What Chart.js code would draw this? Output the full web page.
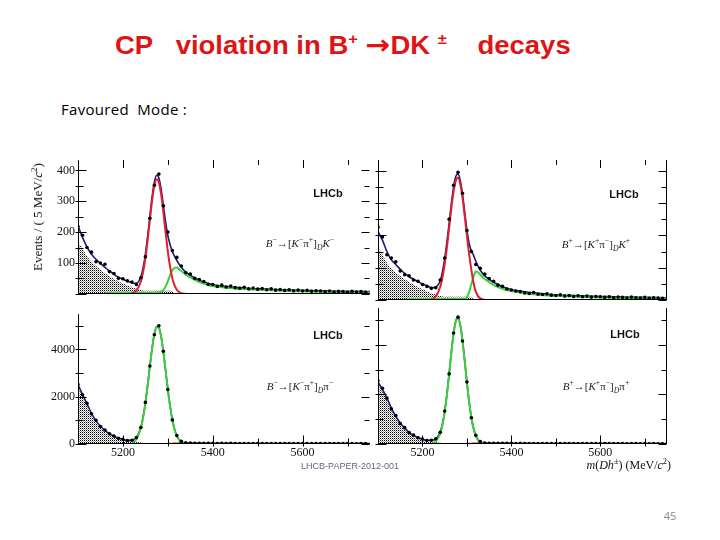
<!DOCTYPE html>
<html>
<head>
<meta charset="utf-8">
<script src="https://cdn.jsdelivr.net/npm/chart.js@4.4.0/dist/chart.umd.min.js"></script>
<style>
  body { margin: 0; width: 720px; height: 540px; background: #fff; position: relative; overflow: hidden; }
  canvas { position: absolute; }
  .t { position: absolute; white-space: nowrap; }
  .c { transform: translate(-50%, -50%); }
  sup, sub { font-size: 70%; line-height: 0; }
  #title { left: 115px; top: 29px; font: bold 25px "Liberation Sans", Arial, sans-serif; color: #e01414; line-height: 32px;
           white-space: pre; transform: scaleX(1.1); transform-origin: left center; }
  #title sup { font-size: 60%; vertical-align: 0.7em; }
  #title .arrow { font-family: "DejaVu Sans", sans-serif; font-size: 27px; }
  #mode { left: 61px; top: 99px; font: 15px "Open Sans", sans-serif; letter-spacing: 0.3px; color: #000; white-space: pre; }
  .lhcb { font: bold 11px "Liberation Sans", Arial, sans-serif; color: #111; }
  .decay { font: 11px "Liberation Serif", serif; color: #222; }
  #ytitle { left: 38px; top: 217px; font: 13px "Liberation Serif", serif; color: #111; transform: translate(-50%, -50%) rotate(-90deg); }
  #xtitle { right: 49px; top: 458px; font: 12px "Liberation Serif", serif; color: #111; }
  #paper { left: 350px; top: 466px; font: 9px "Liberation Sans", Arial, sans-serif; color: #6a5d8d; }
  #page { left: 670px; top: 515px; font: 11px "Open Sans", sans-serif; color: #8a8a8a; }
</style>
</head>
<body>
<div class="t" id="title">CP   violation in B<sup>+</sup> <span class="arrow">→</span>DK <sup>±</sup>    decays</div>
<div class="t" id="mode">Favoured  Mode :</div>

<canvas id="dkMinus" width="344" height="154" style="left:30px; top:150px;"></canvas>
<canvas id="dkPlus" width="297" height="154" style="left:374px; top:150px;"></canvas>
<canvas id="dpiMinus" width="344" height="160" style="left:30px; top:304px;"></canvas>
<canvas id="dpiPlus" width="297" height="160" style="left:374px; top:304px;"></canvas>

<div class="t c lhcb" style="left:328px; top:193px;">LHCb</div>
<div class="t c lhcb" style="left:624px; top:194px;">LHCb</div>
<div class="t c lhcb" style="left:328px; top:335px;">LHCb</div>
<div class="t c lhcb" style="left:625px; top:334px;">LHCb</div>

<div class="t c decay" style="left:300px; top:243px;"><i>B</i><sup>−</sup>→[<i>K</i><sup>−</sup>π<sup>+</sup>]<sub><i>D</i></sub><i>K</i><sup>−</sup></div>
<div class="t c decay" style="left:596px; top:244px;"><i>B</i><sup>+</sup>→[<i>K</i><sup>+</sup>π<sup>−</sup>]<sub><i>D</i></sub><i>K</i><sup>+</sup></div>
<div class="t c decay" style="left:300px; top:386px;"><i>B</i><sup>−</sup>→[<i>K</i><sup>−</sup>π<sup>+</sup>]<sub><i>D</i></sub>π<sup>−</sup></div>
<div class="t c decay" style="left:596px; top:386px;"><i>B</i><sup>+</sup>→[<i>K</i><sup>+</sup>π<sup>−</sup>]<sub><i>D</i></sub>π<sup>+</sup></div>

<div class="t" id="ytitle">Events / ( 5 MeV/<i>c</i><sup>2</sup>)</div>
<div class="t" id="xtitle"><i>m</i>(<i>Dh</i><sup>±</sup>) (MeV/<i>c</i><sup>2</sup>)</div>
<div class="t c" id="paper">LHCB-PAPER-2012-001</div>
<div class="t c" id="page">45</div>

<script>
// DATA
var dataMass = [5100, 5110, 5120, 5130, 5140, 5150, 5160, 5170, 5180, 5190, 5200, 5210, 5220, 5230, 5240, 5250, 5260, 5270, 5280, 5290,
    5300, 5310, 5320, 5330, 5340, 5350, 5360, 5370, 5380, 5390, 5400, 5410, 5420, 5430, 5440, 5450, 5460, 5470, 5480, 5490,
    5500, 5510, 5520, 5530, 5540, 5550, 5560, 5570, 5580, 5590, 5600, 5610, 5620, 5630, 5640, 5650, 5660, 5670, 5680, 5690,
    5700, 5710, 5720, 5730, 5740];
var curveMass = [5100, 5110, 5120, 5130, 5140, 5150, 5160, 5170, 5180, 5190, 5200, 5210, 5220, 5230, 5240, 5245, 5250, 5255, 5260, 5265,
    5270, 5275, 5280, 5285, 5290, 5295, 5300, 5305, 5310, 5315, 5320, 5325, 5330, 5340, 5350, 5360, 5370, 5380, 5390, 5400,
    5425, 5450, 5475, 5500, 5550, 5600, 5650, 5700, 5750];

var xTicks = [5200, 5400, 5600];
var yTicksTop = [0, 100, 200, 300, 400];
var yTicksBottom = [0, 2000, 4000];

// B- -> [K- pi+]_D K-
var dkmData = [218, 190, 150, 135, 104, 100, 96, 72, 66, 50, 49, 42, 38, 30, 52, 120, 245, 352, 388, 285,
    200, 140, 118, 90, 68, 64, 50, 46, 40, 31, 30, 24, 28, 22, 25, 20, 18, 21, 16, 19,
    15, 17, 13, 16, 12, 14, 11, 13, 10, 12, 9, 11, 8, 10, 9, 7, 9, 6, 8, 7,
    5, 8, 6, 7, 5];
var dkmTotal = [220, 183, 152, 128, 112, 98, 86, 74, 63, 54, 47, 41, 36, 34, 56, 85, 128, 186, 252, 315,
    362, 384, 376, 339, 287, 233, 189, 159, 137, 121, 108, 96, 86, 70, 60, 51, 44, 38, 33, 29,
    24, 21, 18, 16, 13, 11, 9, 8, 7];
var dkmSignal = [null, null, null, null, null, null, null, null, null, null, null, null, 2, 10, 40, 71, 115, 173, 239, 302,
    350, 371, 362, 323, 265, 199, 137, 87, 50, 27, 13, 6, 2, 0, null, null, null, null, null, null,
    null, null, null, null, null, null, null, null, null];
var dkmDpi = [null, null, null, null, null, null, 1, 3, 3, 3, 3, 3, 3, 3, 3, 3, 3, 3, 3, 3,
    3, 4, 5, 7, 12, 24, 41, 60, 76, 84, 85, 80, 74, 62, 53, 45, 38, 33, 28, 25,
    20, 17, 15, 13, 10, 8, 6, 5, 4];
var dkmLowMass = [170, 145, 122, 104, 90, 78, 67, 57, 48, 40, 33, 27, 21, 16, 12, 11, 10, 10, 10, 10,
    10, 10, 10, 10, 10, 10, 10, 10, 9, 0, null, null, null, null, null, null, null, null, null, null,
    null, null, null, null, null, null, null, null, null];

// B+ -> [K+ pi-]_D K+
var dkpData = [225, 195, 140, 130, 118, 90, 78, 75, 62, 58, 48, 42, 36, 38, 62, 130, 250, 355, 395, 330,
    215, 150, 110, 98, 80, 66, 58, 46, 42, 34, 31, 28, 26, 22, 20, 23, 18, 17, 19, 15,
    14, 16, 12, 14, 11, 13, 10, 12, 9, 11, 10, 8, 10, 7, 9, 8, 6, 9, 7, 6,
    8, 5, 7, 6, 5];
var dkpTotal = [212, 185, 150, 124, 110, 95, 82, 72, 64, 57, 50, 44, 38, 40, 60, 88, 128, 180, 238, 298,
    350, 382, 390, 370, 328, 272, 217, 175, 152, 138, 120, 105, 92, 75, 64, 55, 48, 41, 36, 32,
    26, 22, 19, 16, 13, 11, 9, 8, 7];
var dkpSignal = [null, null, null, null, null, null, null, null, null, null, null, null, 2, 11, 41, 70, 111, 163, 223, 284,
    336, 369, 378, 359, 317, 260, 199, 141, 93, 52, 26, 12, 5, 0, null, null, null, null, null, null,
    null, null, null, null, null, null, null, null, null];
var dkpDpi = [null, null, null, null, null, null, 1, 3, 3, 3, 3, 3, 3, 3, 3, 3, 3, 3, 3, 3,
    3, 3, 3, 3, 3, 4, 9, 25, 50, 72, 88, 86, 78, 65, 55, 47, 40, 35, 31, 28,
    22, 18, 15, 13, 10, 8, 7, 6, 5];
var dkpLowMass = [165, 140, 115, 98, 85, 74, 64, 55, 47, 40, 33, 27, 21, 16, 12, 11, 10, 10, 10, 10,
    10, 10, 10, 10, 10, 10, 10, 10, 9, 0, null, null, null, null, null, null, null, null, null, null,
    null, null, null, null, null, null, null, null, null];

// B- -> [K- pi+]_D pi-
var dpimData = [2520, 2080, 1720, 1280, 1000, 740, 590, 430, 340, 240, 200, 150, 160, 270, 700, 1760, 3300, 4620, 5000, 3920,
    2300, 1020, 360, 110, 50, 35, 30, 28, 26, 30, 25, 24, 27, 22, 25, 21, 23, 20, 24, 19,
    22, 20, 18, 21, 19, 17, 20, 18, 16, 19, 17, 15, 18, 16, 17, 15, 16, 14, 17, 15,
    14, 16, 13, 15, 14];
var dpimTotal = [2500, 2100, 1700, 1300, 980, 750, 580, 440, 330, 250, 190, 150, 170, 270, 720, 1150, 1750, 2480, 3290, 4060,
    4660, 4970, 4935, 4555, 3910, 3120, 2320, 1600, 1030, 620, 350, 190, 100, 40, 30, 28, 26, 25, 25, 24,
    24, 23, 22, 21, 20, 19, 18, 17, 16];
var dpimSignal = [null, null, null, null, null, null, null, null, null, null, null, null, 43, 197, 674, 1116, 1716, 2455, 3265, 4036,
    4636, 4951, 4915, 4536, 3891, 3102, 2300, 1584, 1014, 604, 333, 172, 82, 20, 14, 12, 11, 10, 10, 10,
    9, 9, 8, 8, 8, 7, 7, 7, 7];
var dpimDk = [null, null, null, null, null, null, null, null, null, null, null, 2, 2, 2, 2, 2, 2, 2, 2, 2,
    2, 2, 2, 2, 3, 4, 6, 10, 15, 20, 25, 28, 30, 30, 26, 22, 18, 15, 12, 10,
    8, 6, 5, 4, 3, 3, 2, 2, 2];
var dpimLowMass = [2400, 2000, 1620, 1230, 920, 700, 540, 400, 300, 220, 165, 125, 100, 80, 60, 45, 30, 0, null, null,
    null, null, null, null, null, null, null, null, null, null, null, null, null, null, null, null, null, null, null, null,
    null, null, null, null, null, null, null, null, null];

// B+ -> [K+ pi-]_D pi+
var dpipData = [2550, 2250, 1850, 1420, 1150, 830, 660, 460, 360, 250, 200, 140, 150, 210, 470, 1330, 2830, 4480, 5120, 4160,
    2500, 1060, 350, 100, 40, 30, 27, 25, 28, 24, 26, 22, 25, 21, 23, 20, 22, 19, 21, 18,
    20, 19, 17, 20, 18, 16, 19, 17, 15, 18, 16, 15, 17, 14, 16, 15, 13, 15, 14, 13,
    15, 12, 14, 13, 12];
var dpipTotal = [2500, 2200, 1860, 1450, 1120, 850, 640, 470, 350, 260, 190, 150, 150, 200, 490, 820, 1320, 2010, 2840, 3710,
    4470, 4970, 5090, 4810, 4190, 3360, 2490, 1700, 1070, 625, 340, 175, 90, 35, 28, 26, 25, 24, 24, 23,
    23, 22, 21, 20, 19, 18, 18, 17, 16];
var dpipSignal = [null, null, null, null, null, null, null, null, null, null, null, null, 17, 101, 424, 770, 1286, 1983, 2818, 3688,
    4450, 4950, 5071, 4790, 4170, 3345, 2473, 1685, 1059, 613, 326, 160, 72, 18, 13, 11, 10, 10, 9, 9,
    9, 8, 8, 8, 7, 7, 7, 6, 6];
var dpipDk = [null, null, null, null, null, null, null, null, null, null, null, 2, 2, 2, 2, 2, 2, 2, 2, 2,
    2, 2, 2, 2, 3, 4, 6, 10, 15, 20, 24, 27, 28, 28, 25, 21, 17, 14, 12, 10,
    8, 6, 5, 4, 3, 3, 2, 2, 2];
var dpipLowMass = [2400, 2100, 1760, 1360, 1040, 790, 590, 430, 310, 225, 160, 115, 90, 70, 50, 35, 20, 0, null, null,
    null, null, null, null, null, null, null, null, null, null, null, null, null, null, null, null, null, null, null, null,
    null, null, null, null, null, null, null, null, null];

// COLOURS
var RED = '#dc2030';
var GREEN = '#3ccf3c';
var NAVY = '#1b1b78';

// dotted fill for the low-mass background
var tile = document.createElement('canvas');
tile.width = 2;
tile.height = 2;
var tileCtx = tile.getContext('2d');
tileCtx.fillStyle = '#000';
tileCtx.fillRect(0, 0, 1, 1);
tileCtx.fillStyle = '#999';
tileCtx.fillRect(1, 1, 1, 1);
var dots = tileCtx.createPattern(tile, 'repeat');

function pts(xs, ys) {
    var out = [];
    for (var i = 0; i < xs.length; i++) out.push({ x: xs[i], y: ys[i] });
    return out;
}

// frame with ROOT style ticks on the inside
var frame = {
    id: 'frame',
    afterDraw: function (chart, args, o) {
        var ctx = chart.ctx, a = chart.chartArea;
        var xs = chart.scales.x, ys = chart.scales.y;
        var L = Math.round(a.left) + 0.5, R = Math.round(a.right) - 0.5;
        var B = Math.round(a.bottom) - 0.5, T = Math.round(a.top);
        ctx.save();
        ctx.strokeStyle = '#000';
        ctx.lineWidth = 1;
        ctx.beginPath();
        if (o.left) { ctx.moveTo(L, a.top); ctx.lineTo(L, a.bottom); }
        if (o.right) { ctx.moveTo(R, a.top); ctx.lineTo(R, a.bottom); }
        ctx.moveTo(a.left, B); ctx.lineTo(a.right, B);

        var yv = ys.ticks.map(function (t) { return t.value; });
        var step = yv[1] - yv[0];
        yv.forEach(function (v) {
            [v, v + step / 2].forEach(function (w, k) {
                if (w > ys.max) return;
                var y = Math.round(ys.getPixelForValue(w)) + 0.5;
                var len = k === 0 ? 8 : 5;
                ctx.moveTo(L - 3, y); ctx.lineTo(L + len, y);
                ctx.moveTo(R - len, y); ctx.lineTo(R, y);
            });
        });
        var xv = xs.ticks.map(function (t) { return t.value; });
        var xstep = xv[1] - xv[0];
        xv.forEach(function (v) {
            [v, v + xstep / 2].forEach(function (w, k) {
                if (w > xs.max) return;
                var x = Math.round(xs.getPixelForValue(w)) + 0.5;
                var len = k === 0 ? 8 : 5;
                if (o.top) { ctx.moveTo(x, T); ctx.lineTo(x, T + len); }
                else { ctx.moveTo(x, B + 3); ctx.lineTo(x, B - len); }
            });
        });
        ctx.stroke();
        ctx.restore();
    }
};

function panel(id, d, top, left) {
    var yTicks = top ? yTicksTop : yTicksBottom;
    return new Chart(document.getElementById(id), {
        type: 'line',
        data: {
            datasets: [
                { data: pts(dataMass, d.data), showLine: false, pointRadius: 1.8, pointBorderWidth: 0,
                  pointBackgroundColor: '#000', borderColor: '#000' },
                { data: pts(curveMass, d.signal), borderColor: d.signalColor, borderWidth: 2, pointRadius: 0,
                  cubicInterpolationMode: 'monotone' },
                { data: pts(curveMass, d.other), borderColor: d.otherColor, borderWidth: 2, pointRadius: 0,
                  cubicInterpolationMode: 'monotone' },
                { data: pts(curveMass, d.total), borderColor: NAVY, borderWidth: 1.6, pointRadius: 0,
                  cubicInterpolationMode: 'monotone' },
                { data: pts(curveMass, d.low), borderWidth: 0, borderColor: 'rgba(0,0,0,0)', pointRadius: 0,
                  backgroundColor: dots, fill: 'origin', cubicInterpolationMode: 'monotone' }
            ]
        },
        options: {
            responsive: false,
            animation: false,
            devicePixelRatio: 1,
            events: [],
            layout: { padding: { top: top ? 10 : 0, left: 0, right: 0, bottom: 0 } },
            plugins: {
                legend: { display: false },
                tooltip: { enabled: false },
                frame: { left: true, right: !left, top: top }
            },
            scales: {
                x: {
                    type: 'linear', min: 5100, max: 5750,
                    grid: { display: false, drawTicks: false },
                    border: { display: false },
                    afterBuildTicks: function (s) { s.ticks = xTicks.map(function (v) { return { value: v }; }); },
                    afterFit: function (s) { s.height = top ? 0 : 20; },
                    ticks: { display: !top, padding: 2, maxRotation: 0, autoSkip: false, color: '#111',
                             font: { family: 'Liberation Serif', size: 12 },
                             callback: function (v) { return String(v); } }
                },
                y: {
                    min: 0, max: top ? 433 : 5490,
                    grid: { display: false, drawTicks: false },
                    border: { display: false },
                    afterBuildTicks: function (s) { s.ticks = yTicks.map(function (v) { return { value: v }; }); },
                    afterFit: function (s) { s.width = left ? 48 : 0; },
                    ticks: { display: left, padding: 3, color: '#111',
                             font: { family: 'Liberation Serif', size: 12 },
                             callback: function (v) { return (top && v === 0) ? '' : String(v); } }
                }
            }
        },
        plugins: [frame]
    });
}

// CHARTS
var dkMinusChart = panel('dkMinus', { data: dkmData, total: dkmTotal, signal: dkmSignal, signalColor: RED,
    other: dkmDpi, otherColor: GREEN, low: dkmLowMass }, true, true);
var dkPlusChart = panel('dkPlus', { data: dkpData, total: dkpTotal, signal: dkpSignal, signalColor: RED,
    other: dkpDpi, otherColor: GREEN, low: dkpLowMass }, true, false);
var dpiMinusChart = panel('dpiMinus', { data: dpimData, total: dpimTotal, signal: dpimSignal, signalColor: GREEN,
    other: dpimDk, otherColor: RED, low: dpimLowMass }, false, true);
var dpiPlusChart = panel('dpiPlus', { data: dpipData, total: dpipTotal, signal: dpipSignal, signalColor: GREEN,
    other: dpipDk, otherColor: RED, low: dpipLowMass }, false, false);
</script>
</body>
</html>
